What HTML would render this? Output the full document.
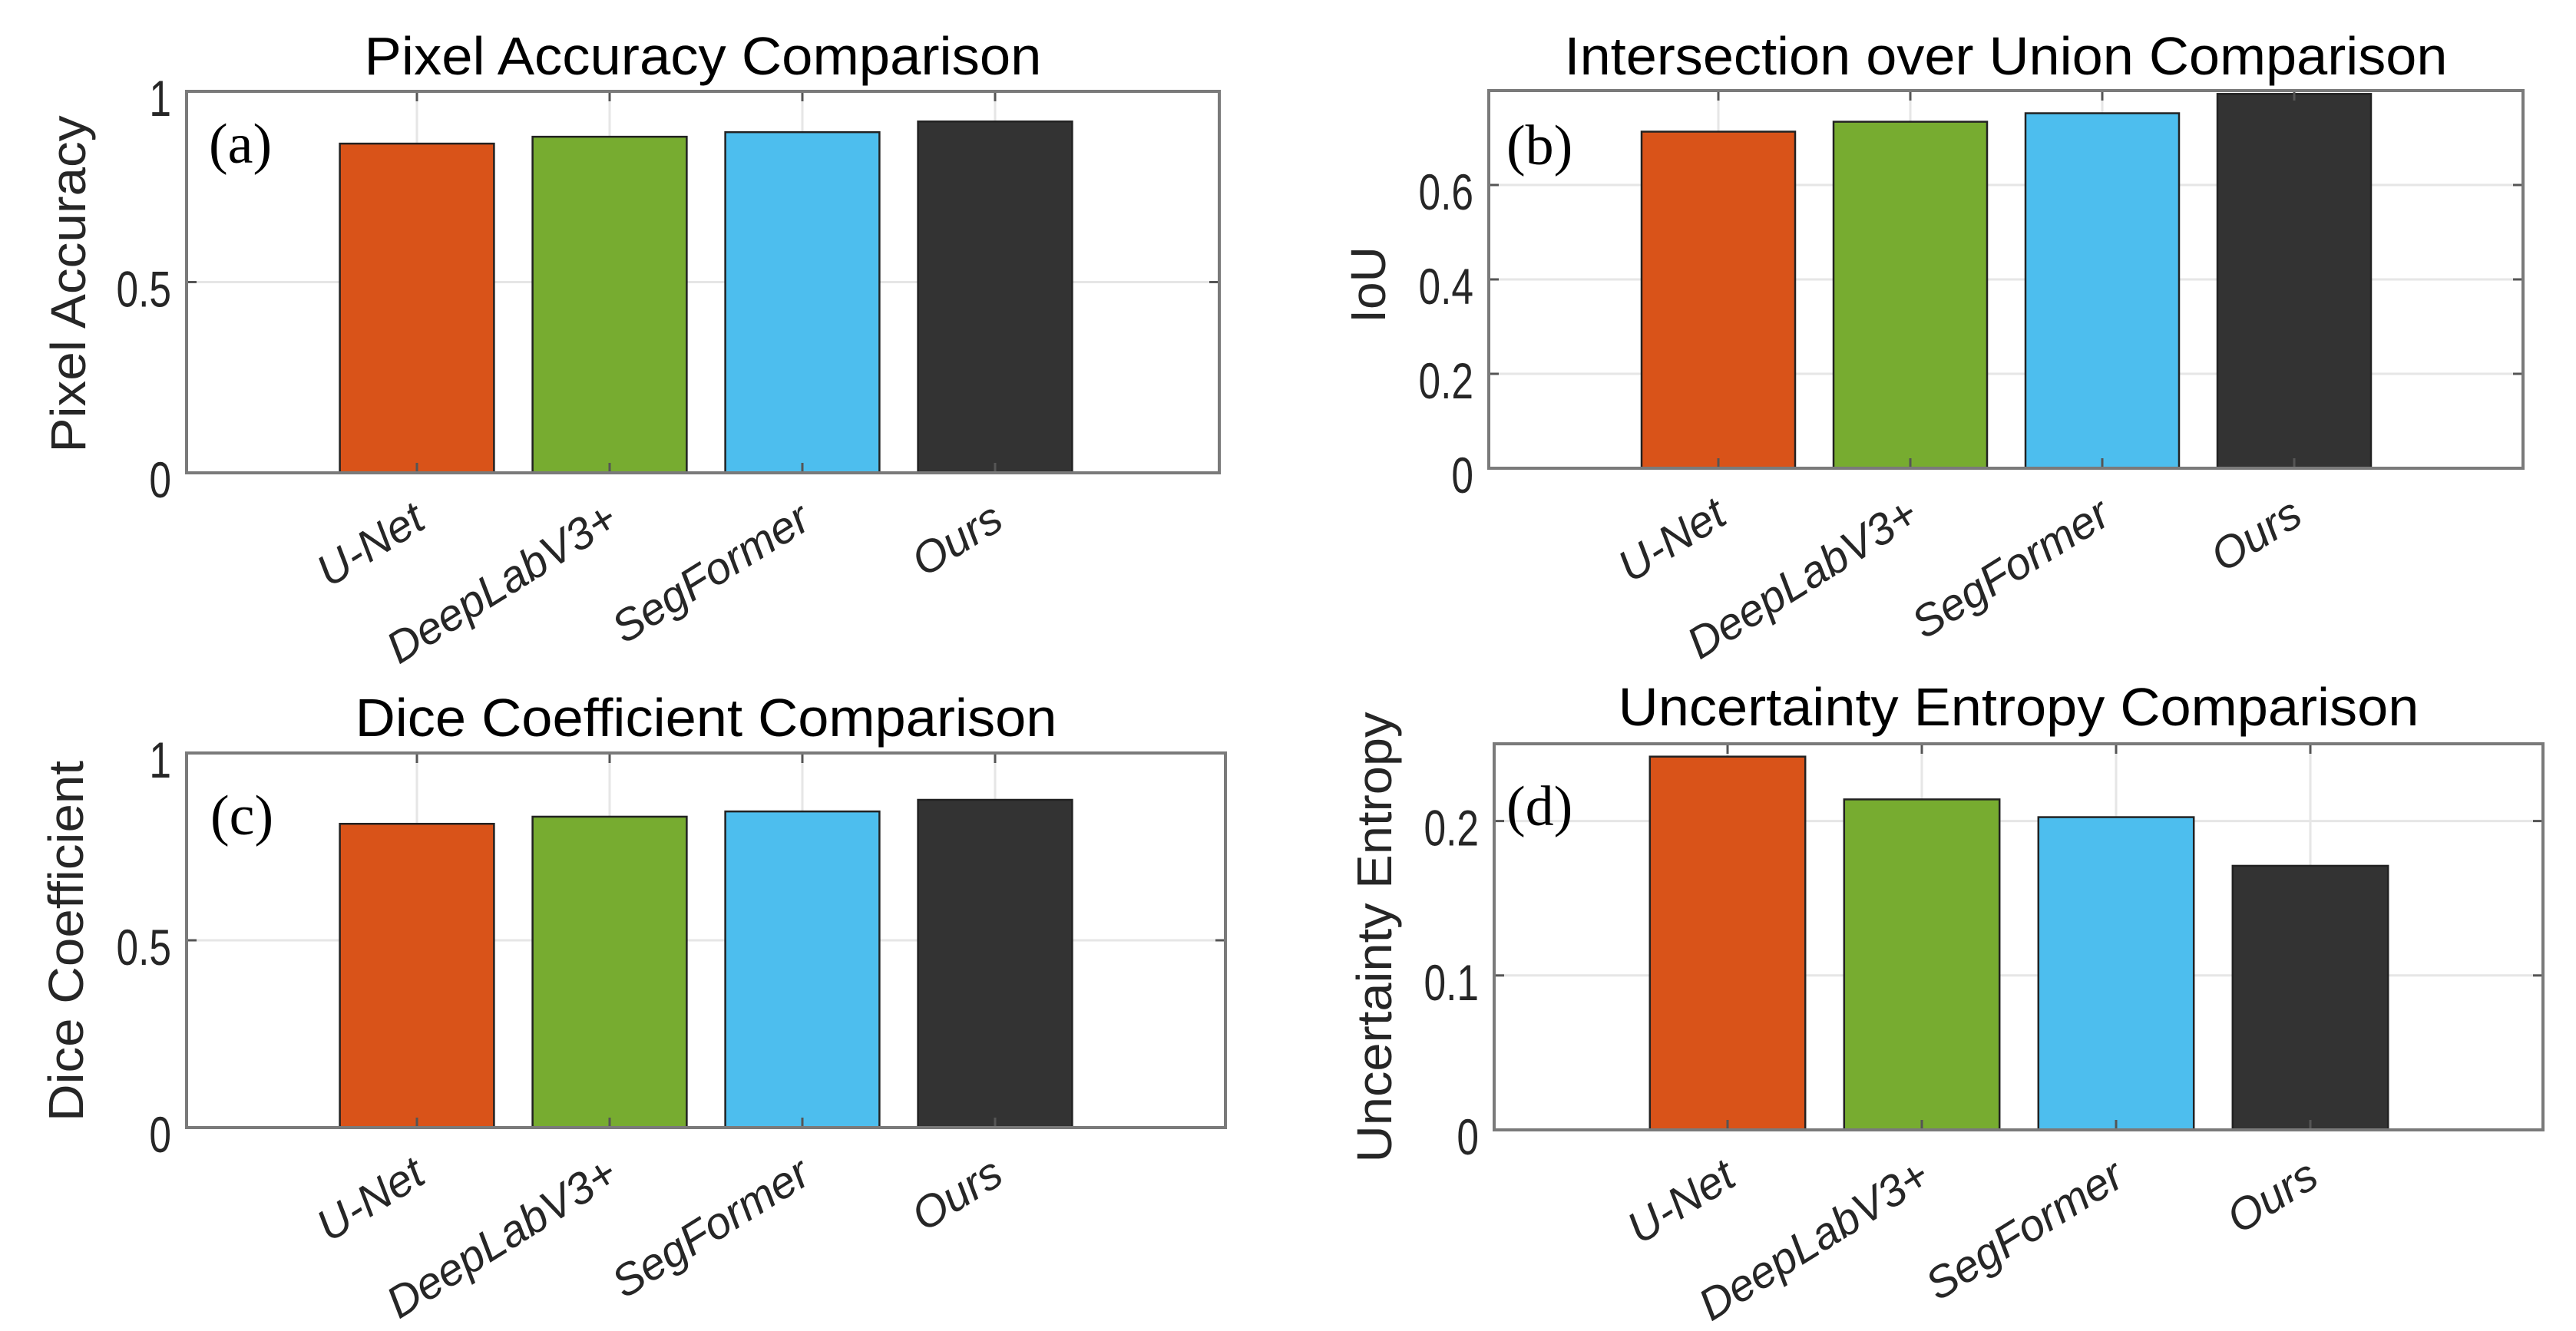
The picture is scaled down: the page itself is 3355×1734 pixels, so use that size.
<!DOCTYPE html>
<html><head><meta charset="utf-8"><style>
html,body{margin:0;padding:0;background:#fff;}
svg{display:block;}
</style></head><body>
<svg id="fig" width="3355" height="1734" viewBox="0 0 3355 1734" xmlns="http://www.w3.org/2000/svg"></svg>
<script>
const categories = ["U-Net","DeepLabV3+","SegFormer","Ours"];
const barColors = ["#D95319","#77AC30","#4DBEEE","#333333"];
const pixelAccuracy = [0.863,0.881,0.893,0.921];
const iouValues = [0.713,0.734,0.752,0.793];
const diceValues = [0.811,0.830,0.844,0.875];
const entropyValues = [0.2417,0.214,0.2025,0.171];
const ticksA = [0,0.5,1];
const tickLabelsA = ["0","0.5","1"];
const ticksB = [0,0.2,0.4,0.6];
const tickLabelsB = ["0","0.2","0.4","0.6"];
const ticksC = [0,0.5,1];
const tickLabelsC = ["0","0.5","1"];
const ticksD = [0,0.1,0.2];
const tickLabelsD = ["0","0.1","0.2"];

const NS="http://www.w3.org/2000/svg";
const svg=document.getElementById('fig');
function mk(tag,attrs,parent){const e=document.createElementNS(NS,tag);for(const k in attrs)e.setAttribute(k,attrs[k]);(parent||svg).appendChild(e);return e;}

const panels=[
 {id:'a',vals:pixelAccuracy,ticks:ticksA,labels:tickLabelsA,ymax:1,L:243,R:1588,T:119,B:616,x1:543,step:251,
  title:"Pixel Accuracy Comparison",tw:882,ty:97,ylab:"Pixel Accuracy",ylx:89,yly:370,yll:439,tag:"(a)",tagx:272,tagy:212},
 {id:'b',vals:iouValues,ticks:ticksB,labels:tickLabelsB,ymax:0.8,L:1939,R:3286,T:118,B:610,x1:2238,step:250,
  title:"Intersection over Union Comparison",tw:1150,ty:97,ylab:"IoU",ylx:1782,yly:371,yll:0,tag:"(b)",tagx:1962,tagy:214},
 {id:'c',vals:diceValues,ticks:ticksC,labels:tickLabelsC,ymax:1,L:243,R:1596,T:981,B:1469,x1:543,step:251,
  title:"Dice Coefficient Comparison",tw:914,ty:959,ylab:"Dice Coefficient",ylx:86,yly:1226,yll:470,tag:"(c)",tagx:274,tagy:1087},
 {id:'d',vals:entropyValues,ticks:ticksD,labels:tickLabelsD,ymax:0.25,L:1946,R:3312,T:969,B:1472,x1:2250,step:253,
  title:"Uncertainty Entropy Comparison",tw:1043,ty:945,ylab:"Uncertainty Entropy",ylx:1790,yly:1221,yll:587,tag:"(d)",tagx:1962,tagy:1075}
];

panels.forEach(p=>{
  const g=mk('g',{});
  
  
  const ys=v=>p.B-(v/p.ymax)*(p.B-p.T);
  const xs=i=>p.x1+i*p.step;
  const bw=p.step*0.8;
  p.ticks.forEach(t=>{
    const l=mk('line',{x1:p.L,x2:p.R,y1:ys(t),y2:ys(t),stroke:'#e6e6e6','stroke-width':3},g);
    
    
  });
  categories.forEach((c,i)=>{
    const l=mk('line',{x1:xs(i),x2:xs(i),y1:p.T,y2:p.B,stroke:'#e6e6e6','stroke-width':3},g);
    
    
  });
  p.vals.forEach((v,i)=>{
    const r=mk('rect',{x:xs(i)-bw/2,y:ys(v),width:bw,height:p.B-ys(v),fill:barColors[i],stroke:'#222','stroke-width':2.5},g);
    
    
  });
  p.ticks.forEach(t=>{
    mk('line',{x1:p.L,x2:p.L+13,y1:ys(t),y2:ys(t),stroke:'#555','stroke-width':3},g);
    mk('line',{x1:p.R-13,x2:p.R,y1:ys(t),y2:ys(t),stroke:'#555','stroke-width':3},g);
  });
  categories.forEach((c,i)=>{
    mk('line',{x1:xs(i),x2:xs(i),y1:p.B-13,y2:p.B,stroke:'#555','stroke-width':3},g);
    mk('line',{x1:xs(i),x2:xs(i),y1:p.T,y2:p.T+13,stroke:'#555','stroke-width':3},g);
  });
  const box=mk('rect',{x:p.L,y:p.T,width:p.R-p.L,height:p.B-p.T,fill:'none',stroke:'#7a7a7a','stroke-width':4},g);
  
  
  p.ticks.forEach((t,k)=>{
    const tx=mk('text',{transform:`translate(${p.L-20},${ys(t)+32}) scale(0.78,1)`,'text-anchor':'end','font-family':'Liberation Sans, sans-serif','font-size':66,fill:'#262626'},g);
    tx.textContent=p.labels[k];
    
    
  });
  categories.forEach((c,i)=>{
    const tx=mk('text',{transform:`translate(${xs(i)+14},${p.B+70}) rotate(-32)`,'text-anchor':'end','font-family':'Liberation Sans, sans-serif','font-size':58,'font-style':'italic',fill:'#262626'},g);
    tx.textContent=c;
    
    
  });
  const cx=(p.L+p.R)/2;
  const ti=mk('text',{x:0,y:0,'text-anchor':'middle','font-family':'Liberation Sans, sans-serif','font-size':70,fill:'#000'},g);
  ti.textContent=p.title;
  
  
  let len=ti.getComputedTextLength()||p.tw;
  ti.setAttribute('transform',`translate(${cx},${p.ty}) scale(${p.tw/len},1)`);
  const ylAttrs={transform:`translate(${p.ylx+22},${p.yly}) rotate(-90)`,'text-anchor':'middle','font-family':'Liberation Sans, sans-serif','font-size':64,fill:'#262626'};
  if(p.yll){ylAttrs.textLength=p.yll;ylAttrs.lengthAdjust='spacingAndGlyphs';}
  const yl=mk('text',ylAttrs,g);
  yl.textContent=p.ylab;
  
  
  const tg=mk('text',{x:p.tagx,y:p.tagy,'font-family':'Liberation Serif, serif','font-size':74,fill:'#000'},g);
  tg.textContent=p.tag;
  
  
});
</script>
</body></html>
